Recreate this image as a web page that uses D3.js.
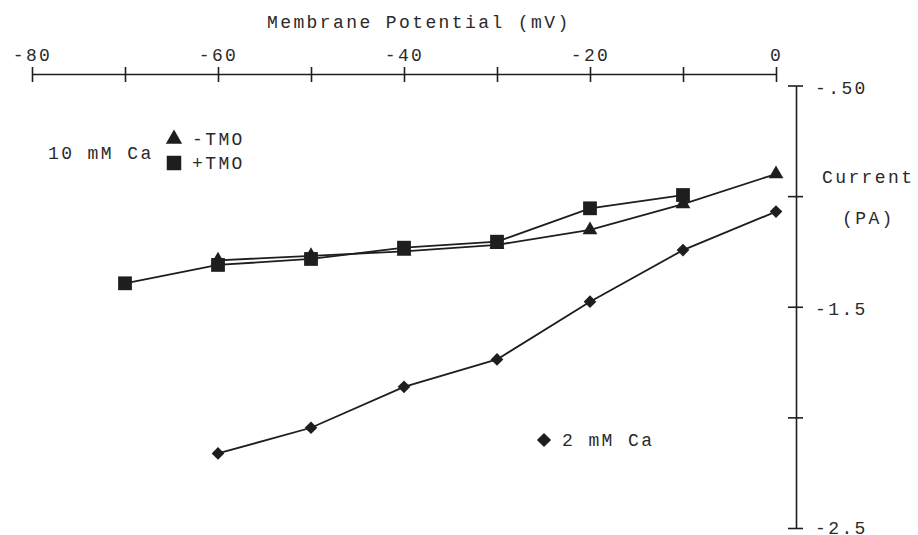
<!DOCTYPE html>
<html>
<head>
<meta charset="utf-8">
<script src="https://cdn.jsdelivr.net/npm/d3@7"></script>
<style>
  body { margin: 0; background: #fff; }
  svg text { font-family: 'Liberation Mono', monospace; font-size: 18px; letter-spacing: 2.4px; fill: #2a2a2a; }
</style>
</head>
<body>
<svg id="chart" width="918" height="535"></svg>
<script>
  // membrane potential (mV) and current (pA)
  const voltsMinusTmo = [-60, -50, -40, -30, -20, -10, 0];
  const currentMinusTmo = [-1.29, -1.27, -1.25, -1.22, -1.153, -1.036, -0.90];

  const voltsPlusTmo = [-70, -60, -50, -40, -30, -20, -10];
  const currentPlusTmo = [-1.394, -1.311, -1.284, -1.233, -1.206, -1.055, -0.995];

  const voltsCa2 = [-60, -50, -40, -30, -20, -10, 0];
  const currentCa2 = [-2.163, -2.047, -1.862, -1.738, -1.477, -1.244, -1.07];

  const xTicks = [-80, -70, -60, -50, -40, -30, -20, -10, 0];
  const xTickLabels = ['-80', '', '-60', '', '-40', '', '-20', '', '0'];
  const yTicks = [-0.5, -1.0, -1.5, -2.0, -2.5];
  const yTickLabels = ['-.50', '', '-1.5', '', '-2.5'];

  const ink = '#1e1e1e';

  const svg = d3.select('#chart');

  const x = d3.scaleLinear().domain([-80, 0]).range([32, 776]);
  const y = d3.scaleLinear().domain([-0.5, -2.5]).range([85.5, 528]);

  const axisY = 74;     // x axis sits at the top
  const axisX = 796;    // y axis sits at the right

  // top axis
  const gx = svg.append('g')
    .attr('transform', `translate(0, ${axisY})`)
    .call(d3.axisTop(x).tickValues(xTicks).tickSizeOuter(0)
      .tickFormat((d, i) => xTickLabels[i]));
  gx.select('.domain').attr('stroke', ink).attr('stroke-width', 1.6);
  gx.selectAll('.tick line').attr('stroke', ink).attr('stroke-width', 1.6)
    .attr('y1', 8).attr('y2', -7);
  gx.selectAll('.tick text').attr('y', -13).attr('dy', null)
    .style('font-size', '18px').style('font-family', null).attr('fill', '#2a2a2a');
  gx.attr('font-family', null).attr('font-size', null);

  // right axis
  const gy = svg.append('g')
    .attr('transform', `translate(${axisX}, 0)`)
    .call(d3.axisRight(y).tickValues(yTicks).tickSizeOuter(0)
      .tickFormat((d, i) => yTickLabels[i]));
  gy.select('.domain').attr('stroke', ink).attr('stroke-width', 1.6);
  gy.selectAll('.tick line').attr('stroke', ink).attr('stroke-width', 1.6)
    .attr('x1', -8).attr('x2', 7);
  gy.selectAll('.tick text').attr('x', 19)
    .attr('dy', d => d === -2.5 ? '0.3em' : '0.45em')
    .attr('text-anchor', 'start').attr('fill', '#2a2a2a');
  gy.attr('font-family', null).attr('font-size', null);

  svg.append('text').attr('x', 267).attr('y', 28).text('Membrane Potential (mV)');
  svg.append('text').attr('x', 822).attr('y', 183).text('Current');
  svg.append('text').attr('x', 842).attr('y', 224).text('(PA)');

  const line = d3.line().x(d => x(d[0])).y(d => y(d[1]));

  const series = [
    { name: '-TMO', volts: voltsMinusTmo, current: currentMinusTmo, shape: d3.symbolTriangle, size: 95, rot: 0 },
    { name: '+TMO', volts: voltsPlusTmo, current: currentPlusTmo, shape: d3.symbolSquare, size: 190, rot: 0 },
    { name: '2 mM Ca', volts: voltsCa2, current: currentCa2, shape: d3.symbolSquare, size: 80, rot: 45 }
  ];

  series.forEach(s => {
    const pts = s.volts.map((v, i) => [v, s.current[i]]);
    svg.append('path').datum(pts)
      .attr('d', line).attr('fill', 'none')
      .attr('stroke', ink).attr('stroke-width', 1.8);
  });

  series.forEach(s => {
    const pts = s.volts.map((v, i) => [v, s.current[i]]);
    svg.append('g').selectAll('path').data(pts).enter().append('path')
      .attr('d', d3.symbol().type(s.shape).size(s.size))
      .attr('transform', d => `translate(${x(d[0])}, ${y(d[1])}) rotate(${s.rot})`)
      .attr('fill', ink);
  });

  // legends
  svg.append('text').attr('x', 48).attr('y', 159).text('10 mM Ca');
  const legendItems = [
    { s: series[0], cx: 174, cy: 139 },
    { s: series[1], cx: 174, cy: 163 }
  ];
  legendItems.forEach(l => {
    svg.append('path')
      .attr('d', d3.symbol().type(l.s.shape).size(l.s.size + 20))
      .attr('transform', `translate(${l.cx}, ${l.cy})`)
      .attr('fill', ink);
    svg.append('text').attr('x', 192).attr('y', l.cy + 6).text(l.s.name);
  });

  svg.append('path')
    .attr('d', d3.symbol().type(series[2].shape).size(100))
    .attr('transform', `translate(544, 440) rotate(45)`)
    .attr('fill', ink);
  svg.append('text').attr('x', 562).attr('y', 446).text(series[2].name);
</script>
</body>
</html>
